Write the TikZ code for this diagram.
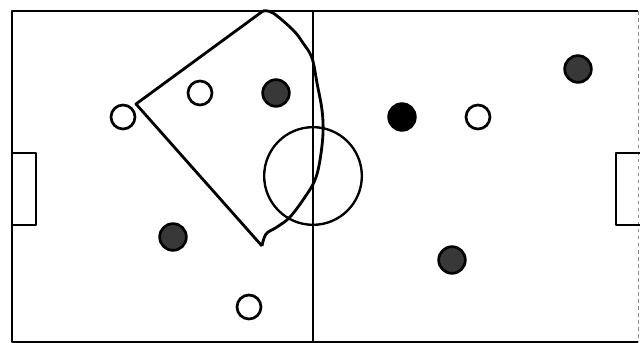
\documentclass[tikz,border=0pt]{standalone}
\usetikzlibrary{positioning}
\begin{document}
\begin{tikzpicture}[x=0.03cm,y=-0.03cm,line width=2.3pt]
\tikzset{w/.style={circle,draw,fill=white,minimum size=0.72cm,inner sep=0pt,line width=2.3pt},g/.style={w,fill=black!78,minimum size=0.8cm},bk/.style={w,fill=black,minimum size=0.8cm},ln/.style={line width=2.4pt,line join=round}}
\useasboundingbox (0,0) rectangle (640,343);
% pitch
\draw[ln] (638,11) -- (12,11) -- (12,342) -- (638,342);
\draw[black!45,line width=0.6pt,dashed] (638,11) -- (638,342);
\draw[ln] (313,11) -- (313,342);
\node[circle,draw,line width=2pt,minimum size=2.93cm,inner sep=0pt] (cc) at (313,176) {};
\draw[ln] (12,153) -- (36,153) -- (36,225) -- (12,225);
\draw[ln] (640,153) -- (616,153) -- (616,225) -- (640,225);
% zone
\coordinate (top) at (263,11);
\coordinate (lft) at (136,104);
\coordinate (bot) at (262,246);
\draw[ln] (top) -- (lft) -- (bot);
\draw[ln] plot[smooth,tension=0.6] coordinates {(bot) (266,234) (277,227) (290,217) (305,197) (315,180) (320,160) (323,133) (322,110) (317,83) (312,58) (303,43) (293,30) (273,13) (top)};
% players
\node[w] (p1) at (123,117) {};
\node[w] (p2) at (200,93) {};
\node[g] (p3) at (276,93) {};
\node[g] (p4) at (173,237) {};
\node[w] (p5) at (249,307) {};
\node[bk] (p6) at (402,117) {};
\node[w] (p7) at (478,117) {};
\node[g] (p8) at (578,69) {};
\node[g] (p9) at (452,260) {};
\end{tikzpicture}
\end{document}
